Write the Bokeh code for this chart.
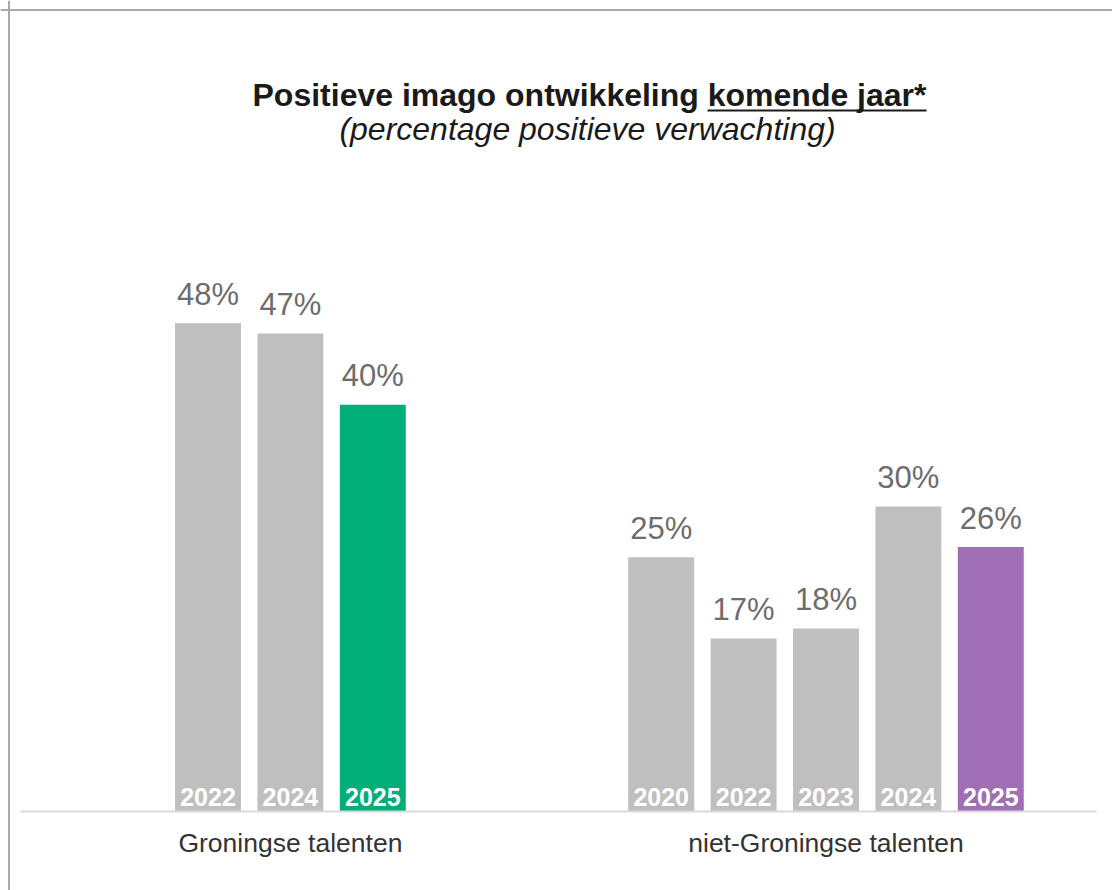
from bokeh.plotting import figure
from bokeh.models import ColumnDataSource, Range1d, Span
from bokeh.core.properties import value
from bokeh.embed import file_html
from bokeh.resources import INLINE

# ---- data ----
categories = ["Groningse talenten", "niet-Groningse talenten"]
groningse_years = ["2022", "2024", "2025"]
groningse_values = [48, 47, 40]
niet_years = ["2020", "2022", "2023", "2024", "2025"]
niet_values = [25, 17, 18, 30, 26]

title_text = "Positieve imago ontwikkeling komende jaar*"
subtitle_text = "(percentage positieve verwachting)"

# ---- style / layout ----
FONT = "Liberation Sans"
GRAY = "#bfbfbf"
HIGHLIGHT = ["#00ae77", "#a06eb4"]
group_offsets = [0.0, 5.5]
BAR_W = 0.80

xs, tops, years, labels, colors = [], [], [], [], []
for g, (yrs, vals) in enumerate([(groningse_years, groningse_values), (niet_years, niet_values)]):
    for i, (yr, v) in enumerate(zip(yrs, vals)):
        xs.append(group_offsets[g] + i)
        tops.append(v)
        years.append(yr)
        labels.append(f"{v}%")
        colors.append(HIGHLIGHT[g] if i == len(yrs) - 1 else GRAY)

src = ColumnDataSource(dict(x=xs, top=tops, year=years, label=labels, color=colors))

group_centers = [group_offsets[0] + (len(groningse_years) - 1) / 2,
                 group_offsets[1] + (len(niet_years) - 1) / 2]
cat_src = ColumnDataSource(dict(x=group_centers, y=[0, 0], text=categories))

p = figure(width=1112, height=890, output_backend="svg", toolbar_location=None,
           x_range=Range1d(-2.5182, 10.977), y_range=Range1d(-7.768, 79.744),
           x_axis_location=None, y_axis_location=None,
           min_border=0)
p.outline_line_color = None
p.xgrid.visible = False
p.ygrid.visible = False
p.background_fill_color = "white"
p.border_fill_color = "white"

# outer frame (top / left edges of the chart box)
p.add_layout(Span(location=-2.415, dimension="height", line_color="#aaaaaa", line_width=2))
p.add_layout(Span(location=78.81, dimension="width", line_color="#aaaaaa", line_width=2))

p.vbar(x="x", top="top", width=BAR_W, bottom=0, color="color", line_color=None, source=src)

# baseline
p.segment(x0=[-2.2755], y0=[0], x1=[10.783], y1=[0], line_color="#d9d9d9", line_width=2)

p.text(x="x", y="top", text="label", source=src, text_align="center",
       text_baseline="alphabetic", y_offset=-29, text_font=value(FONT),
       text_font_size="31px", text_color="#6d6d6d")

p.text(x="x", y=0, text="year", source=src, text_align="center",
       text_baseline="alphabetic", y_offset=-14, text_font=value(FONT),
       text_font_size="25px", text_font_style="bold", text_color="white")

# category labels
p.text(x="x", y="y", text="text", source=cat_src, text_align="center",
       text_baseline="alphabetic", y_offset=32, text_font=value(FONT),
       text_font_size="26.5px", text_color="#333333")

# title + subtitle
p.text(x=[4.630], y=[70.50], text=[title_text], text_align="center", text_baseline="alphabetic",
       text_font=value(FONT), text_font_size="32px", text_font_style="bold", text_color="#1a1a1a")
p.segment(x0=[6.062], y0=[68.93], x1=[8.720], y1=[68.93], line_color="#1a1a1a", line_width=2)
p.text(x=[4.606], y=[67.10], text=[subtitle_text], text_align="center", text_baseline="alphabetic",
       text_font=value(FONT), text_font_size="32px", text_font_style="italic", text_color="#1a1a1a")

open("out.html", "w").write(file_html(p, INLINE))
